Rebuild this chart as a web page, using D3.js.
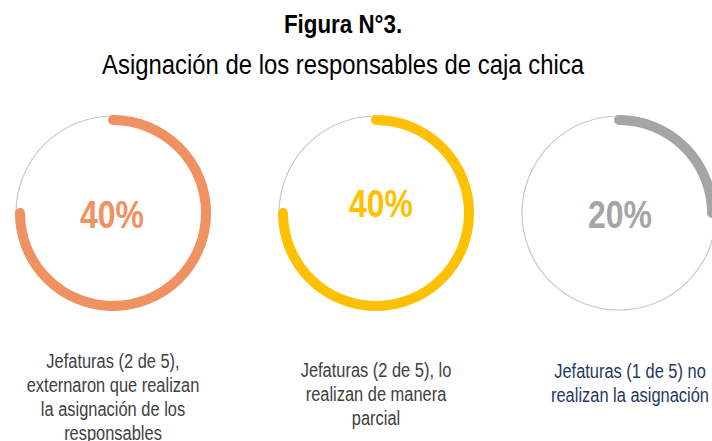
<!DOCTYPE html>
<html>
<head>
<meta charset="utf-8">
<script src="https://cdn.jsdelivr.net/npm/d3@7"></script>
<style>
  html, body { margin: 0; padding: 0; background: #fff; }
  text { font-family: "Liberation Sans", Arial, sans-serif; }
</style>
</head>
<body>
<div id="chart-container"></div>
<script>
// data
const categories = ['externaron', 'parcial', 'no'];
const pctValues = [40, 40, 20];
const ringShare = [0.75, 0.75, 0.25]; // share of the ring that is drawn thick, as in the picture
const labelLines = [
    ['Jefaturas (2 de 5),', 'externaron que realizan', 'la asignación de los', 'responsables'],
    ['Jefaturas (2 de 5), lo', 'realizan de manera', 'parcial'],
    ['Jefaturas (1 de 5) no', 'realizan la asignación']
];
const titleText = 'Figura N°3.';
const subtitleText = 'Asignación de los responsables de caja chica';

const width = 712, height = 441;

const svg = d3.select('#chart-container')
    .append('svg')
    .attr('width', width)
    .attr('height', height);

// title + subtitle
svg.append('text')
    .attr('transform', 'translate(343,33) scale(0.86,1)')
    .attr('text-anchor', 'middle')
    .style('font-weight', 'bold')
    .style('font-size', '26px')
    .attr('fill', '#000')
    .text(titleText);

svg.append('text')
    .attr('transform', 'translate(343,74) scale(0.885,1)')
    .attr('text-anchor', 'middle')
    .style('font-size', '27px')
    .attr('fill', '#000')
    .text(subtitleText);

// layout
const x = d3.scaleOrdinal().domain(categories).range([113, 376, 619]);
const cy = 213;
const color = d3.scaleOrdinal().domain(categories).range(['#EF9160', '#FFC000', '#A5A5A5']);
const textColor = d3.scaleOrdinal().domain(categories).range(['#404040', '#404040', '#1F3864']);
const pctY = d3.scaleOrdinal().domain(categories).range([228, 217, 228]);
const pctX = d3.scaleOrdinal().domain(categories).range([112, 381, 620]);
const labelTop = d3.scaleOrdinal().domain(categories).range([368, 377, 378]);
const angle = d3.scaleLinear().domain([0, 1]).range([-Math.PI / 2, 3 * Math.PI / 2]);

const rThin = 97, rThick = 93, thick = 10;

const data = categories.map((c, i) => ({
    key: c, pct: pctValues[i], share: ringShare[i], lines: labelLines[i]
}));

const rings = svg.selectAll('g.ring')
    .data(data)
    .join('g')
    .attr('class', 'ring');

// thin background circle
rings.append('circle')
    .attr('cx', d => x(d.key))
    .attr('cy', cy)
    .attr('r', rThin)
    .attr('fill', 'none')
    .attr('stroke', '#C8C8C8')
    .attr('stroke-width', 1.2);

// thick arc with round caps
rings.append('path')
    .attr('d', d => {
        const p = d3.path();
        p.arc(x(d.key), cy, rThick, angle(0), angle(d.share));
        return p.toString();
    })
    .attr('fill', 'none')
    .attr('stroke', d => color(d.key))
    .attr('stroke-width', thick)
    .attr('stroke-linecap', 'round');

// percentage in the middle
rings.append('text')
    .attr('transform', d => `translate(${pctX(d.key)},${pctY(d.key)}) scale(0.82,1)`)
    .attr('text-anchor', 'middle')
    .style('font-weight', 'bold')
    .style('font-size', '39px')
    .attr('fill', d => color(d.key))
    .text(d => d.pct + '%');

// description under each ring
rings.each(function(d) {
    const g = d3.select(this);
    d.lines.forEach((line, j) => {
        g.append('text')
            .attr('transform', `translate(${x(d.key) + (d.key === 'no' ? 11 : 0)},${labelTop(d.key) + j * 24}) scale(0.79,1)`)
            .attr('text-anchor', 'middle')
            .style('font-size', '20.8px')
            .attr('fill', textColor(d.key))
            .text(line);
    });
});
</script>
</body>
</html>
